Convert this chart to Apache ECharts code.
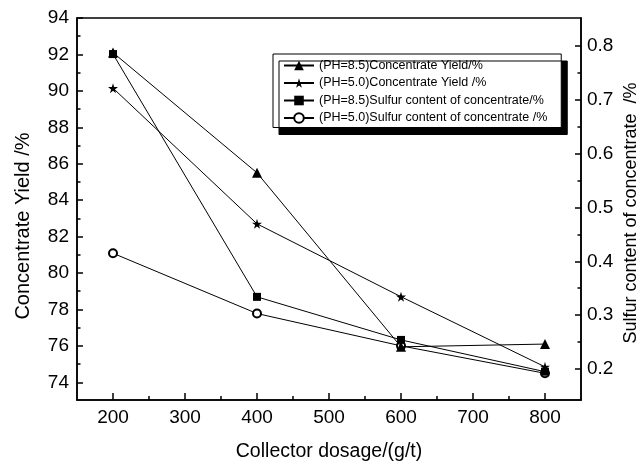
<!DOCTYPE html>
<html>
<head>
<meta charset="utf-8">
<script src="https://cdn.jsdelivr.net/npm/echarts@6/dist/echarts.min.js"></script>
<style>
  html, body { margin: 0; padding: 0; background: #fff; }
  #chart { width: 643px; height: 466px; }
</style>
</head>
<body>
<div id="chart"></div>
<script>
// data
const dosage = [200, 400, 600, 800];
const yield85 = [92.1, 85.5, 75.95, 76.1];
const yield50 = [90.15, 82.7, 78.7, 74.85];
const sulfur85 = [0.785, 0.334, 0.254, 0.195];
const sulfur50 = [0.415, 0.303, 0.243, 0.192];

const xTicks = [200, 300, 400, 500, 600, 700, 800];
const xMinor = [250, 350, 450, 550, 650, 750];
const leftTicks = [74, 76, 78, 80, 82, 84, 86, 88, 90, 92, 94];
const leftMinor = [75, 77, 79, 81, 83, 85, 87, 89, 91, 93];
const rightTicks = [0.2, 0.3, 0.4, 0.5, 0.6, 0.7, 0.8];
const rightMinor = [0.25, 0.35, 0.45, 0.55, 0.65, 0.75];

const names = [
  '(PH=8.5)Concentrate Yield/%',
  '(PH=5.0)Concentrate Yield /%',
  '(PH=8.5)Sulfur content of concentrate/%',
  '(PH=5.0)Sulfur content of concentrate /%'
];

const FONT = 'Liberation Sans, Arial, sans-serif';
const STAR = 'path://M50,0 L61,35 L98,35 L68,57 L79,91 L50,70 L21,91 L32,57 L2,35 L39,35 Z';

const pairs = (ys) => dosage.map((x, i) => [x, ys[i]]);

const chart = echarts.init(document.getElementById('chart'));

const axisLine = { show: true, lineStyle: { color: '#000', width: 1.5 } };

const option = {
  backgroundColor: '#fff',
  animation: false,
  textStyle: { fontFamily: FONT, color: '#000' },
  grid: {
    left: 77, top: 18, right: 62, bottom: 66,
    show: true, borderColor: '#000', borderWidth: 1.5,
    outerBoundsMode: 'none'
  },
  legend: {
    orient: 'vertical',
    left: 273, top: 54,
    padding: [5, 14, 3, 10],
    itemWidth: 30, itemHeight: 12, itemGap: 4.5,
    backgroundColor: '#fff',
    borderColor: '#000', borderWidth: 1,
    shadowColor: '#000', shadowBlur: 0, shadowOffsetX: 6, shadowOffsetY: 7,
    selectedMode: false,
    textStyle: { fontFamily: FONT, fontSize: 12.5, color: '#000' },
    data: names
  },
  xAxis: [
    {
      type: 'value', min: 150, max: 850,
      name: 'Collector dosage/(g/t)', nameLocation: 'middle', nameGap: 42,
      nameMoveOverlap: false,
      nameTextStyle: { fontFamily: FONT, fontSize: 19.5, color: '#000' },
      axisLine: axisLine,
      axisTick: { inside: true, length: 7, customValues: xTicks, lineStyle: { color: '#000', width: 1.5 } },
      axisLabel: { customValues: xTicks, margin: 8, fontFamily: FONT, fontSize: 19, color: '#000' },
      splitLine: { show: false }
    },
    {
      type: 'value', min: 150, max: 850, position: 'bottom',
      axisLine: { show: false },
      axisTick: { show: true, inside: true, length: 4, customValues: xMinor, lineStyle: { color: '#000', width: 1.5 } },
      axisLabel: { show: false },
      splitLine: { show: false }
    }
  ],
  yAxis: [
    {
      type: 'value', min: 73.03, max: 94, position: 'left',
      name: 'Concentrate Yield /%', nameLocation: 'middle', nameGap: 44, nameRotate: 90,
      nameMoveOverlap: false,
      nameTextStyle: { fontFamily: FONT, fontSize: 20, color: '#000', padding: [0, 34, 0, 0] },
      axisLine: axisLine,
      axisTick: { inside: true, length: 6, customValues: leftTicks, lineStyle: { color: '#000', width: 1.5 } },
      axisLabel: { customValues: leftTicks, margin: 8, fontFamily: FONT, fontSize: 19, color: '#000' },
      splitLine: { show: false }
    },
    {
      type: 'value', min: 0.1424, max: 0.852, position: 'right',
      name: 'Sulfur content of concentrate  /%', nameLocation: 'middle', nameGap: 41, nameRotate: 90,
      nameMoveOverlap: false,
      nameTextStyle: { fontFamily: FONT, fontSize: 18, color: '#000', padding: [0, 8, 0, 0] },
      axisLine: axisLine,
      axisTick: { inside: true, length: 6, customValues: rightTicks, lineStyle: { color: '#000', width: 1.5 } },
      axisLabel: {
        customValues: rightTicks, margin: 6, fontFamily: FONT, fontSize: 19, color: '#000',
        formatter: (v) => v.toFixed(1)
      },
      splitLine: { show: false }
    },
    {
      type: 'value', min: 73.03, max: 94, position: 'left',
      axisLine: { show: false },
      axisTick: { show: true, inside: true, length: 3.5, customValues: leftMinor, lineStyle: { color: '#000', width: 1.5 } },
      axisLabel: { show: false },
      splitLine: { show: false }
    },
    {
      type: 'value', min: 0.1424, max: 0.852, position: 'right',
      axisLine: { show: false },
      axisTick: { show: true, inside: true, length: 3.5, customValues: rightMinor, lineStyle: { color: '#000', width: 1.5 } },
      axisLabel: { show: false },
      splitLine: { show: false }
    }
  ],
  series: [
    {
      name: names[3], type: 'line', yAxisIndex: 1, data: pairs(sulfur50),
      symbol: 'emptyCircle', symbolSize: 8, z: 2,
      lineStyle: { color: '#000', width: 1 },
      itemStyle: { color: '#000', borderWidth: 1 }
    },
    {
      name: names[2], type: 'line', yAxisIndex: 1, data: pairs(sulfur85),
      symbol: 'rect', symbolSize: 8, z: 3,
      lineStyle: { color: '#000', width: 1 },
      itemStyle: { color: '#000' }
    },
    {
      name: names[1], type: 'line', yAxisIndex: 0, data: pairs(yield50),
      symbol: STAR, symbolSize: 10, z: 4,
      lineStyle: { color: '#000', width: 1 },
      itemStyle: { color: '#000' }
    },
    {
      name: names[0], type: 'line', yAxisIndex: 0, data: pairs(yield85),
      symbol: 'triangle', symbolSize: 10, z: 5,
      lineStyle: { color: '#000', width: 1 },
      itemStyle: { color: '#000' }
    }
  ]
};

chart.setOption(option);
</script>
</body>
</html>
